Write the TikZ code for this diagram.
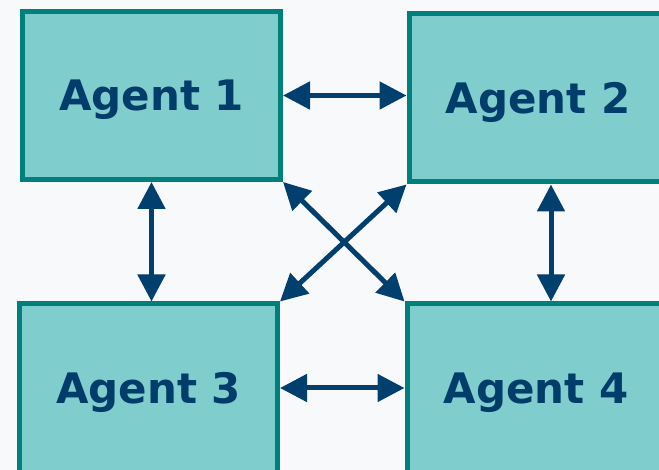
\documentclass[tikz,border=0pt]{standalone}
\usepackage{fontspec}
\setmainfont{DejaVu Sans}
\usetikzlibrary{arrows.meta}
\definecolor{pagebg}{HTML}{F7F9FB}
\definecolor{agentfill}{HTML}{80CDCD}
\definecolor{agentedge}{HTML}{00807D}
\definecolor{agentink}{HTML}{003D6B}
\definecolor{linkink}{HTML}{003F6E}
\begin{document}
\begin{tikzpicture}[x=1pt,y=-1pt,
  agent/.style={draw=agentedge, fill=agentfill, line width=5pt,
    minimum width=258pt, minimum height=168pt, inner sep=0pt,
    text depth=0pt,
    text=agentink, font=\fontsize{42}{50}\selectfont\bfseries},
  link/.style={draw=linkink, line width=5pt,
    {Triangle[length=27pt,width=27pt]}-{Triangle[length=27pt,width=27pt]}}]
  % canvas
  \fill[pagebg] (0,0) rectangle (659,470);
  \useasboundingbox (0,0) rectangle (659,470);

  % the four agents
  \node[agent] (a1) at (151.5,95.5) {Agent 1};
  \node[agent] (a2) at (538,98)     {Agent 2};
  \node[agent] (a3) at (148.5,388)  {Agent 3};
  \node[agent] (a4) at (536,388)    {Agent 4};

  % two-way links between every pair
  \draw[link] (a1.east) -- (a1.east -| a2.west);
  \draw[link] (a3.east) -- (a3.east -| a4.west);
  \draw[link] (a1.south) -- (a1.south |- a3.north);
  \draw[link] ([xshift=13pt]a2.south) -- ([xshift=13pt]a2.south |- a4.north);
  \draw[link] (a1.south east) -- (a4.north west);
  \draw[link] (a2.south west) -- (a3.north east);
\end{tikzpicture}
\end{document}
